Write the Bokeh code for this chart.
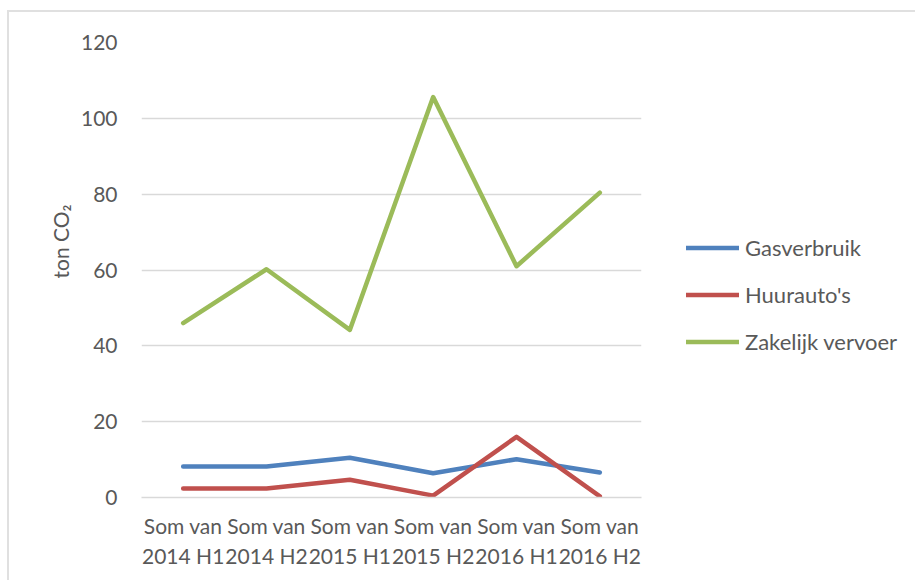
from bokeh.plotting import figure
from bokeh.models import FactorRange, Legend, LegendItem, SingleIntervalTicker, Title
from bokeh.embed import file_html
from bokeh.resources import INLINE

categories = ["Som van\n2014 H1", "Som van\n2014 H2", "Som van\n2015 H1",
              "Som van\n2015 H2", "Som van\n2016 H1", "Som van\n2016 H2"]
gasverbruik = [8.2, 8.2, 10.5, 6.4, 10.1, 6.6]
huurautos = [2.4, 2.4, 4.7, 0.5, 16.0, 0.3]
zakelijk_vervoer = [46.0, 60.2, 44.2, 105.6, 61.0, 80.4]
series_names = ["Gasverbruik", "Huurauto's", "Zakelijk vervoer"]
colors = ["#4F81BD", "#C0504D", "#9BBB59"]

FONT = "Lato"
GREY = "#595959"

p = figure(x_range=FactorRange(*categories), y_range=(0, 120),
           frame_width=500, frame_height=455, output_backend="svg", toolbar_location=None,
           min_border_left=132, min_border_right=266, min_border_top=30,
           min_border_bottom=84)
p.styles = {"margin-left": "7px", "margin-top": "10px",
            "border-left": "2px solid #e0e0e0", "border-top": "2px solid #e0e0e0"}
p.outline_line_color = None
p.xgrid.grid_line_color = None
p.ygrid.grid_line_color = "#d9d9d9"
p.ygrid.grid_line_width = 1.5
p.yaxis.ticker = SingleIntervalTicker(interval=20)

for ax in (p.xaxis[0], p.yaxis[0]):
    ax.axis_line_color = None
    ax.major_tick_line_color = None
    ax.minor_tick_line_color = None
    ax.major_label_text_font = FONT
    ax.major_label_text_font_size = "21px"
    ax.major_label_text_color = GREY

p.xaxis.axis_line_color = "#d9d9d9"
p.xaxis.axis_line_width = 1.5
p.xaxis.major_label_standoff = 9
p.yaxis.major_label_standoff = 18

ytitle = Title(text="ton CO₂", align="left", offset=219, standoff=10,
               text_font=FONT, text_font_size="21px", text_font_style="normal",
               text_color=GREY)
p.add_layout(ytitle, "left")

renderers = []
for vals, c in zip([gasverbruik, huurautos, zakelijk_vervoer], colors):
    r = p.line(categories, vals, line_color=c, line_width=4.5,
               line_cap="round", line_join="round")
    renderers.append(r)

legend = Legend(items=[LegendItem(label=n, renderers=[r]) for n, r in zip(series_names, renderers)],
                location=(45, 142), margin=0, padding=10, spacing=20, label_standoff=6,
                glyph_width=53, glyph_height=25, label_height=25,
                label_text_font=FONT, label_text_font_size="22px",
                label_text_color=GREY, border_line_color=None,
                background_fill_alpha=0)
p.add_layout(legend, "right")

open("out.html", "w").write(file_html(p, INLINE))
